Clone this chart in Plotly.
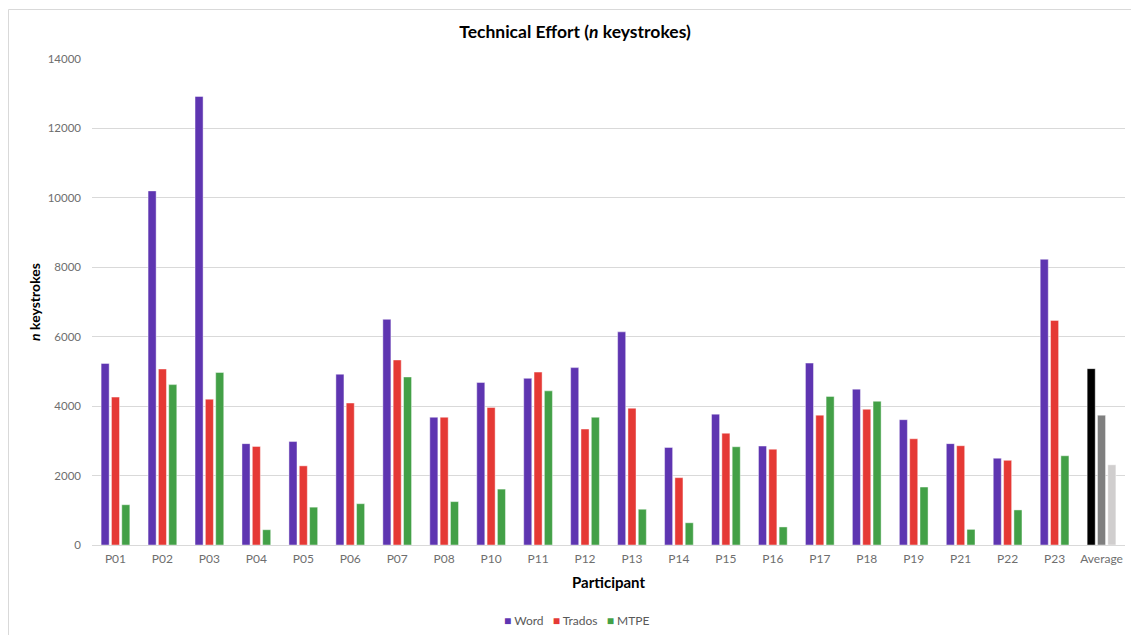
import plotly.graph_objects as go

# Participants and keystroke counts per editing environment
participants = ["P01", "P02", "P03", "P04", "P05", "P06", "P07", "P08", "P10", "P11",
                "P12", "P13", "P14", "P15", "P16", "P17", "P18", "P19", "P21", "P22",
                "P23", "Average"]
word = [5230, 10200, 12920, 2920, 2980, 4920, 6500, 3680, 4680, 4800,
        5110, 6140, 2810, 3770, 2850, 5240, 4490, 3610, 2920, 2500,
        8230, 5080]
trados = [4260, 5070, 4200, 2840, 2280, 4090, 5330, 3680, 3960, 4980,
          3340, 3940, 1940, 3220, 2760, 3740, 3910, 3060, 2860, 2440,
          6470, 3740]
mtpe = [1160, 4620, 4970, 440, 1090, 1190, 4840, 1250, 1610, 4440,
        3680, 1030, 640, 2830, 520, 4280, 4140, 1670, 450, 1010,
        2570, 2310]

y_ticks = [0, 2000, 4000, 6000, 8000, 10000, 12000, 14000]

FONT = "Lato, 'Open Sans', sans-serif"
SERIES = [("Word", word, "#5E35B1"), ("Trados", trados, "#E53935"), ("MTPE", mtpe, "#43A047")]
AVG_COLORS = {"Word": "#000000", "Trados": "#7F7F7F", "MTPE": "#D0CECE"}

n_part = len(participants) - 1


def colours(base, name):
    return [base] * n_part + [AVG_COLORS[name]]


fig = go.Figure()
for name, vals, base in SERIES:
    fig.add_trace(go.Bar(
        name=name,
        x=participants,
        y=vals,
        marker=dict(color=colours(base, name),
                    line=dict(color="rgba(255,255,255,0.55)", width=0.8)),
        showlegend=False,
    ))

# Plot-area geometry in pixels
W, H = 1131, 635
L, R, T, B = 92, 1125, 59, 545
pw, ph = R - L, B - T


def px_x(x):
    return (x - L) / pw


def px_y(y):
    return (B - y) / ph


# Compact key drawn as a single line of text with coloured squares
key_text = "&nbsp;&nbsp;&nbsp;".join(
    f"<span style='color:{c}'>■</span> {n}" for n, _, c in SERIES
)

fig.update_layout(
    width=W, height=H,
    margin=dict(l=L, r=W - R, t=T, b=H - B),
    paper_bgcolor="white",
    plot_bgcolor="white",
    font=dict(family=FONT, color="#595959", size=11),
    barmode="group",
    bargap=0.34,
    bargroupgap=0.22,
    title=dict(
        text="<b>Technical Effort (<i>n</i> keystrokes)</b>",
        x=575 / W, xanchor="center",
        y=1 - 32 / H, yanchor="middle",
        font=dict(family=FONT, size=17.5, color="#000000"),
    ),
    xaxis=dict(
        type="category",
        showgrid=False,
        showline=False,
        ticks="",
        ticklabelstandoff=5,
        tickfont=dict(family=FONT, size=12, color="#6E6E6E"),
        title=dict(text="<b>Participant</b>",
                   font=dict(family=FONT, size=15, color="#000000"),
                   standoff=12),
    ),
    yaxis=dict(
        range=[0, 14000],
        tickvals=y_ticks,
        ticktext=[str(v) for v in y_ticks],
        showgrid=True,
        gridcolor="#D9D9D9",
        gridwidth=1,
        zeroline=True,
        zerolinecolor="#D9D9D9",
        zerolinewidth=1,
        showline=False,
        ticks="",
        ticklabelstandoff=10,
        tickfont=dict(family=FONT, size=11.5, color="#6E6E6E"),
        title=dict(text="<b><i>n</i> keystrokes</b>",
                   font=dict(family=FONT, size=14, color="#000000"),
                   standoff=3),
    ),
    annotations=[dict(
        text=key_text,
        xref="paper", yref="paper",
        x=px_x(576), y=px_y(620),
        xanchor="center", yanchor="middle",
        showarrow=False,
        font=dict(family=FONT, size=12, color="#595959"),
    )],
    shapes=[dict(
        type="rect", xref="paper", yref="paper",
        x0=px_x(8.5), x1=px_x(1140), y0=px_y(645), y1=px_y(9.5),
        line=dict(color="#D9D9D9", width=1),
        fillcolor="rgba(0,0,0,0)",
        layer="below",
    )],
)

fig.write_html("out.html")
